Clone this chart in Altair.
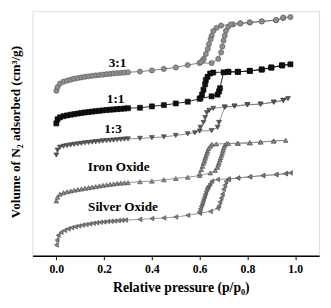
import altair as alt
import pandas as pd

# ---- data (p/p0, volume in arbitrary units) ----
low_p = [0.0, 0.005, 0.015, 0.03, 0.045, 0.06, 0.075, 0.09, 0.105, 0.12, 0.135, 0.15, 0.165,
         0.18, 0.195, 0.21, 0.225, 0.24, 0.255, 0.27, 0.285, 0.3, 0.35, 0.4, 0.45, 0.5, 0.55]

s31_ads_p = low_p + [0.6, 0.65, 0.678, 0.69, 0.695, 0.70, 0.705, 0.71, 0.72, 0.74, 0.77, 0.81, 0.86, 0.92, 0.95, 0.98]
s31_ads_v = [168.7, 172.5, 176, 178, 179, 180, 181, 181.7, 182.3, 183, 183.5, 184, 184.4, 184.8, 185.2,
             185.6, 186, 186.4, 186.7, 187, 187.3, 187.6, 188.3, 189.5, 191, 192.5, 195,
             197, 197, 201.3, 208, 214, 220, 225, 230, 234, 236.5, 237.5, 238.5, 239.7, 240.7, 243, 244]
s31_des_p = [0.95, 0.92, 0.86, 0.81, 0.77, 0.73, 0.69, 0.671, 0.657, 0.65, 0.646, 0.639, 0.634, 0.626, 0.617, 0.613, 0.605]
s31_des_v = [243.5, 241, 239.5, 238.5, 237.5, 236.5, 235.3, 233, 229.7, 224.7, 221.3, 216.3, 211.3, 206.3, 201.3, 199.7, 198]

s11_ads_p = low_p + [0.6, 0.65, 0.675, 0.681, 0.685, 0.70, 0.72, 0.76, 0.81, 0.86, 0.90, 0.945, 0.98]
s11_ads_v = [135.3, 139.5, 141.5, 142.7, 143.5, 144.2, 144.8, 145.4, 146, 146.5, 147, 147.4, 147.8, 148.2,
             148.6, 149, 149.3, 149.6, 149.9, 150.2, 150.5, 150.8, 151.3, 152.7, 154, 155.7, 157.5,
             160.5, 163, 164.7, 168, 171.3, 187.5, 188, 188, 189, 190.3, 192.3, 194.7, 195.7]
s11_des_p = [0.945, 0.90, 0.86, 0.81, 0.76, 0.72, 0.657, 0.644, 0.633, 0.626, 0.623, 0.616, 0.61, 0.603]
s11_des_v = [194.5, 192.5, 190.5, 189, 188, 188, 187.3, 186.3, 183, 179.7, 175.3, 169.7, 164.7, 161]

s13_ads_p = low_p + [0.58, 0.6, 0.65, 0.675, 0.681, 0.705, 0.746, 0.80, 0.855, 0.91, 0.95, 0.97]
s13_ads_v = [103, 108, 111, 112, 112.7, 113.3, 113.9, 114.4, 114.9, 115.4, 115.8, 116.2, 116.6, 117,
             117.4, 117.7, 118, 118.3, 118.6, 118.9, 119.2, 119.5, 120, 120.7, 121.5, 123, 124.7,
             125.7, 127.5, 128, 131.3, 136.3, 152, 153, 154.5, 155, 157, 159, 160.7]
s13_des_p = [0.95, 0.91, 0.855, 0.80, 0.746, 0.705, 0.657, 0.64, 0.63, 0.623, 0.616, 0.603]
s13_des_v = [158.7, 157, 155, 154.3, 153, 152, 150.7, 148.7, 146.3, 141.3, 136.3, 131.3]

fe_ads_p = low_p + [0.6, 0.645, 0.665, 0.674, 0.678, 0.681, 0.685, 0.688, 0.692, 0.695, 0.698, 0.701,
                    0.705, 0.712, 0.76, 0.81, 0.855, 0.91, 0.96]
fe_ads_v = [56, 60, 63, 64.5, 65.5, 66.2, 67, 67.7, 68.3, 69, 69.6, 70.2, 70.8, 71.4, 72, 72.5, 73,
            73.5, 74, 74.3, 74.6, 74.8, 75.7, 76.3, 77.7, 79, 80.3,
            82, 84.7, 87.3, 90.5, 93, 95.5, 98, 100.5, 103, 105.5, 108, 110.5, 113, 114.7, 115, 115.5,
            116.3, 117.3, 118]
fe_des_p = [0.91, 0.855, 0.81, 0.76, 0.72, 0.67, 0.651, 0.645, 0.637, 0.633, 0.63, 0.626, 0.623, 0.62,
            0.616, 0.612, 0.607, 0.6]
fe_des_v = [117.3, 116.3, 115.5, 115, 114.7, 114.3, 114, 112, 109.7, 107, 104.7, 102, 99.7, 97, 94.7,
            91.5, 88, 84]

ag_ads_p = [0.0, 0.003, 0.008, 0.02, 0.035, 0.05, 0.065, 0.08, 0.095, 0.11, 0.125, 0.14, 0.155, 0.17,
            0.185, 0.2, 0.215, 0.23, 0.245, 0.26, 0.275, 0.29, 0.35, 0.4, 0.45, 0.5, 0.55, 0.6, 0.645,
            0.675, 0.68, 0.685, 0.69, 0.695, 0.70, 0.705, 0.71, 0.72, 0.76, 0.81, 0.865, 0.92, 0.96, 0.98]
ag_ads_v = [11, 16, 21, 24, 26, 27.5, 28.7, 29.7, 30.5, 31.3, 32, 32.6, 33.2, 33.7, 34.2, 34.6, 35,
            35.3, 35.6, 35.9, 36.2, 36.5, 37.2, 38, 38.7, 39.7, 41.3, 43.5, 45.3, 48.5, 51, 55, 59,
            63, 68, 72, 76, 78, 79.5, 80.7, 82, 83, 84, 84.7]
ag_des_p = [0.96, 0.92, 0.865, 0.81, 0.76, 0.72, 0.675, 0.651, 0.644, 0.637, 0.633, 0.63, 0.626, 0.623,
            0.62, 0.616, 0.613, 0.61, 0.606, 0.603, 0.598]
ag_des_v = [84, 83, 82, 80.7, 79.5, 78.5, 78, 76.3, 73.5, 71.3, 69.5, 68, 65.5, 63, 60.5, 58, 55.5,
            53, 50.5, 48, 45]

series_names = ["3:1", "1:1", "1:3", "Iron Oxide", "Silver Oxide"]
series_data = [
    (s31_ads_p, s31_ads_v, s31_des_p, s31_des_v),
    (s11_ads_p, s11_ads_v, s11_des_p, s11_des_v),
    (s13_ads_p, s13_ads_v, s13_des_p, s13_des_v),
    (fe_ads_p, fe_ads_v, fe_des_p, fe_des_v),
    (ag_ads_p, ag_ads_v, ag_des_p, ag_des_v),
]
shapes = ["circle", "square", "triangle-down", "triangle-up", "triangle-left"]
fills = ["#8e8e8e", "#111111", "#5c5c5c", "#8a8a8a", "#808080"]
strokes = ["#555555", "#000000", "#333333", "#454545", "#454545"]
line_colors = ["#707070", "#111111", "#808080", "#8a8a8a", "#8a8a8a"]
sizes = [28, 22, 28, 28, 28]

label_text = ["3:1", "1:1", "1:3", "Iron Oxide", "Silver Oxide"]
label_p = [0.256, 0.248, 0.237, 0.261, 0.279]
label_v = [197, 159.7, 129.7, 90.5, 49.7]

rows = []
for name, (ap, av, dp, dv) in zip(series_names, series_data):
    i = 0
    for p, v in zip(ap + dp, av + dv):
        rows.append({"series": name, "p": p, "v": v, "idx": i})
        i += 1
df = pd.DataFrame(rows)
lab = pd.DataFrame({"label": label_text, "p": label_p, "v": label_v})

FONT = "Liberation Serif"

x_enc = alt.X("p:Q", scale=alt.Scale(domain=[-0.1, 1.1], nice=False, zero=False),
              axis=alt.Axis(values=[0.0, 0.1, 0.2, 0.3, 0.4, 0.5, 0.6, 0.7, 0.8, 0.9, 1.0],
                            labelExpr="round(datum.value*10) % 2 == 0 ? format(datum.value, '.1f') : ''",
                            title="Relative pressure (p/p₀)", grid=False,
                            tickSize=4, tickColor="black", tickWidth=1,
                            domainColor="black", domainWidth=1.5,
                            labelFont=FONT, labelFontWeight="bold", labelFontSize=12,
                            labelColor="black", labelPadding=4,
                            titleFont=FONT, titleFontWeight="bold", titleFontSize=14,
                            titleColor="black", titleX=151.7, titleY=33, titleBaseline="middle"))
y_enc = alt.Y("v:Q", scale=alt.Scale(domain=[0, 250], nice=False, zero=False),
              axis=alt.Axis(labels=False, ticks=False, domain=False, grid=False,
                            title="Volume of N₂ adsorbed (cm³/g)",
                            titleFont=FONT, titleFontWeight="bold", titleFontSize=13.5,
                            titleColor="black", titleX=-17.5, titleY=123, titleBaseline="middle",
                            titleAngle=270))

lines = alt.Chart(df).mark_line(strokeWidth=0.9).encode(
    x=x_enc, y=y_enc, detail="series:N", order="idx:Q",
    color=alt.Color("series:N", scale=alt.Scale(domain=series_names, range=line_colors), legend=None),
)
points = alt.Chart(df).mark_point(filled=True, strokeWidth=0.6, opacity=1).encode(
    x=x_enc, y=y_enc,
    shape=alt.Shape("series:N", scale=alt.Scale(domain=series_names, range=shapes), legend=None),
    fill=alt.Fill("series:N", scale=alt.Scale(domain=series_names, range=fills), legend=None),
    stroke=alt.Stroke("series:N", scale=alt.Scale(domain=series_names, range=strokes), legend=None),
    size=alt.Size("series:N", scale=alt.Scale(domain=series_names, range=sizes), legend=None),
)
labels = alt.Chart(lab).mark_text(font=FONT, fontWeight="bold", fontSize=13.5, baseline="middle",
                                  align="center", color="black").encode(
    x=alt.X("p:Q"), y=alt.Y("v:Q"), text="label:N")

chart = alt.layer(lines, points, labels).resolve_scale(
    color="independent", fill="independent", stroke="independent"
).properties(
    width=293, height=250,
    autosize=alt.AutoSizeParams(type="none"),
    padding={"left": 25, "top": 0, "right": 4, "bottom": 45},
).configure_view(stroke="black", strokeWidth=1.5).configure(background="white")

chart.save("out.html", embed_options={"renderer": "svg", "actions": False})
